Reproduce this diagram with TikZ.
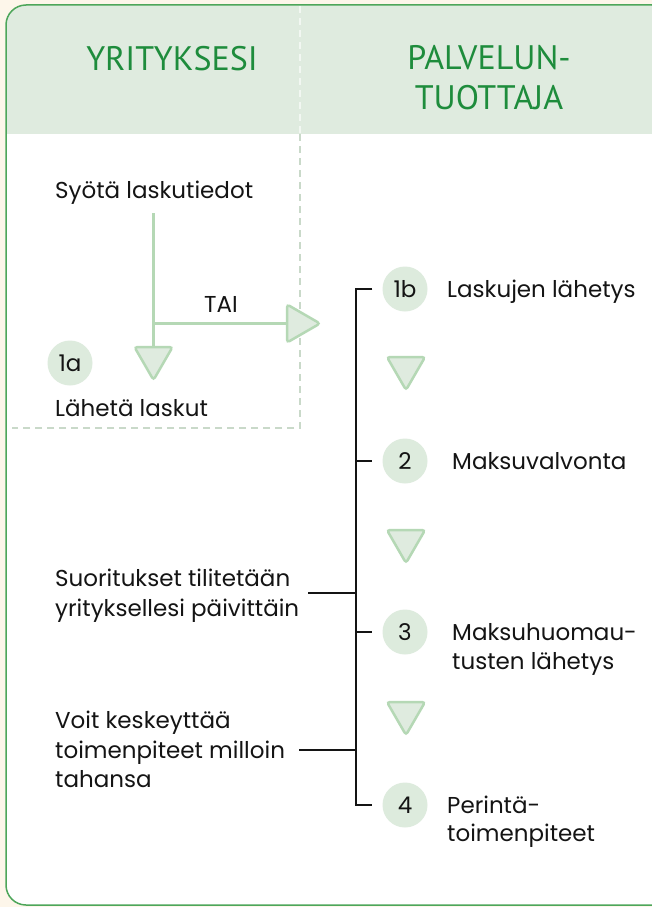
\documentclass[tikz,border=0pt]{standalone}
\usepackage{fontspec}
\setmainfont{Poppins}
\newfontfamily\headfont{PT Sans}
\usetikzlibrary{shapes.geometric}
\definecolor{bgcream}{HTML}{FDF6EA}
\definecolor{boxborder}{HTML}{4DA65A}
\definecolor{headfill}{HTML}{DFEBDF}
\definecolor{headtext}{HTML}{1E8C3C}
\definecolor{gline}{HTML}{B5D8B5}
\definecolor{trifill}{HTML}{DFEBDF}
\definecolor{circfill}{HTML}{DDEBDD}
\definecolor{dashcol}{HTML}{C9D9C9}
\definecolor{ink}{HTML}{141414}
\begin{document}
\begin{tikzpicture}[x=1pt,y=-1pt,
  bodytext/.style={inner sep=0pt, text=ink, font=\fontsize{23}{30}\selectfont},
  headtxt/.style={inner sep=0pt, text=headtext, align=center, font=\headfont\fontsize{34}{40}\selectfont},
  numcirc/.style={circle, fill=circfill, minimum size=45pt, inner sep=0pt, text=ink, font=\fontsize{23}{25}\selectfont},
  tridown/.style={regular polygon, regular polygon sides=3, shape border rotate=180, minimum size=44pt, inner sep=0pt, fill=trifill, draw=gline, line width=2.5pt, rounded corners=3pt},
  triright/.style={regular polygon, regular polygon sides=3, shape border rotate=-90, minimum size=44pt, inner sep=0pt, fill=trifill, draw=gline, line width=2.5pt, rounded corners=3pt},
  gconn/.style={draw=gline, line width=3pt},
  bline/.style={draw=ink, line width=1.5pt},
  dashline/.style={draw=dashcol, line width=1.2pt, dash pattern=on 7pt off 5pt}
]
\useasboundingbox (0,0) rectangle (652,907);
\fill[bgcream] (0,0) rectangle (652,907);
\begin{scope}
  \clip (0,0) rectangle (652,907);
  \fill[white, rounded corners=20pt] (6,5) rectangle (672,905);
  \begin{scope}
    \clip[rounded corners=20pt] (6,5) rectangle (672,905);
    \fill[headfill] (0,0) rectangle (672,134);
  \end{scope}
  \draw[boxborder, line width=1.5pt, rounded corners=20pt] (6,5) rectangle (672,905);
\end{scope}

% dashed separators
\draw[dashline, draw=white!60!headfill] (300,6) -- (300,134);
\draw[dashline] (300,134) -- (300,428) -- (12,428);

% headers
\node[headtxt] (h1) at (172,58.5) {YRITYKSESI};
\node[headtxt] (h2) at (489,78) {PALVELUN-\\TUOTTAJA};

% left column
\node[bodytext, anchor=base west] (syota) at (55,198) {Syötä laskutiedot};
\node[tridown] (t1a) at (153.5,358) {};
\node[triright] (tr) at (298,323.5) {};
\coordinate (vstart) at (153.5,213);
\coordinate (split) at (153.5,323.5);
\draw[gconn] (vstart) -- (t1a.north);
\draw[gconn] (split) -- (tr.west);
\node[bodytext, anchor=base] (tai) at (221,312) {TAI};
\node[numcirc] (c1a) at (70,363) {1a};
\node[bodytext, anchor=base west] (lah) at (55,416) {Lähetä laskut};

% right column
\node[numcirc] (c1b) at (405,289) {1b};
\node[numcirc] (c2) at (405,461) {2};
\node[numcirc] (c3) at (405,632) {3};
\node[numcirc] (c4) at (405,805) {4};
\node[tridown] (t2) at (406,368) {};
\node[tridown] (t3) at (406,541) {};
\node[tridown] (t4) at (406,713) {};
\node[bodytext, anchor=base west] (l1b) at (447,297) {Laskujen lähetys};
\node[bodytext, anchor=base west] (l2) at (452,469) {Maksuvalvonta};
\node[bodytext, anchor=base west] (l3a) at (452,640) {Maksuhuomau-};
\node[bodytext, anchor=base west] (l3b) at (452,669) {tusten lähetys};
\node[bodytext, anchor=base west] (l4a) at (447,813) {Perintä-};
\node[bodytext, anchor=base west] (l4b) at (447,841) {toimenpiteet};

% left notes
\node[bodytext, anchor=base west] (s1) at (55,586) {Suoritukset tilitetään};
\node[bodytext, anchor=base west] (s2) at (55,616) {yrityksellesi päivittäin};
\node[bodytext, anchor=base west] (v1) at (55,728) {Voit keskeyttää};
\node[bodytext, anchor=base west] (v2) at (55,758) {toimenpiteet milloin};
\node[bodytext, anchor=base west] (v3) at (55,787) {tahansa};

% bracket
\coordinate (bx) at (356,0);
\draw[bline] ([xshift=-10pt]c1b.west) -- (c1b.west -| bx) -- (c4.west -| bx) -- ([xshift=-10pt]c4.west);
\draw[bline] (c2.west -| bx) -- ([xshift=-10pt]c2.west);
\draw[bline] (c3.west -| bx) -- ([xshift=-10pt]c3.west);
\coordinate (suorT) at (308,593);
\coordinate (voitT) at (299,750);
\draw[bline] (suorT) -- (suorT -| bx);
\draw[bline] (voitT) -- (voitT -| bx);
\end{tikzpicture}
\end{document}
